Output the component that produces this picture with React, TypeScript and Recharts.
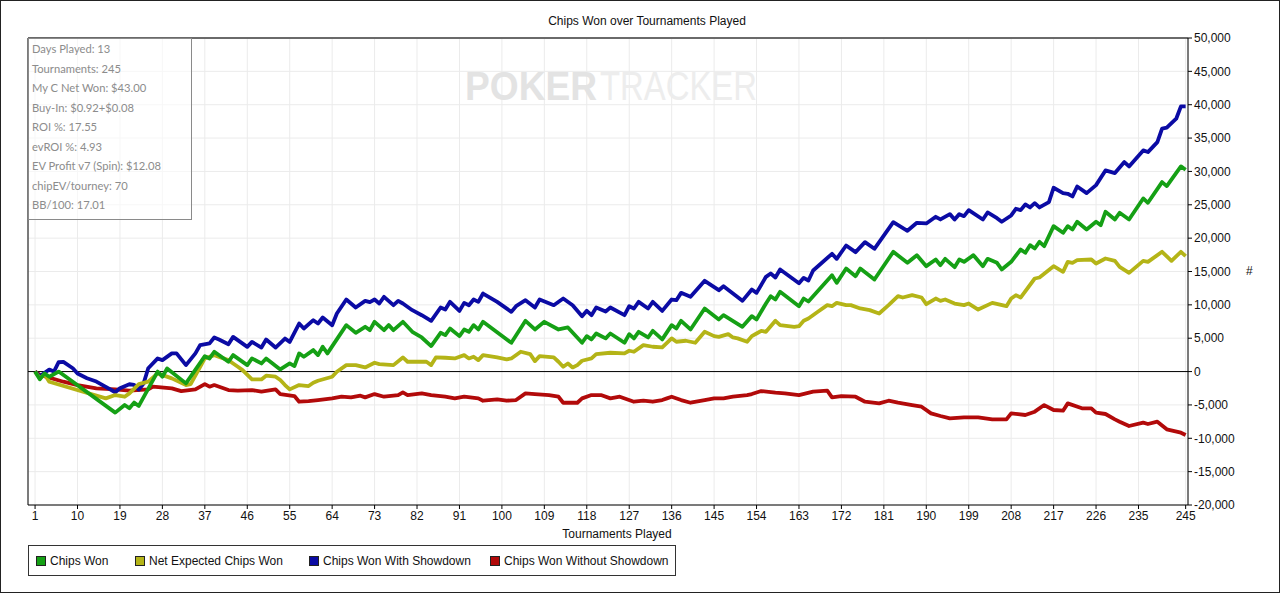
import React from 'react';
import {
  LineChart,
  Line,
  XAxis,
  YAxis,
  CartesianGrid,
  ReferenceLine,
} from 'recharts';

// vertices: [tournament, chips]
const chipsWon: [number, number][] = [
  [1, 0], [2, -1170], [3, -270], [4, -770], [6, 0], [18, -6150], [20, -5000], [21, -5500],
  [22, -4650], [23, -5150], [27, 0], [28, -770], [29, 470], [33, -1770], [37, 2320], [38, 1970],
  [39, 2970], [42, 1470], [43, 2470], [46, 970], [47, 1970], [49, 1220], [50, 1970], [53, 320],
  [55, 1220], [56, 820], [57, 2720], [58, 2220], [60, 3220], [61, 2470], [62, 3720], [63, 2720],
  [67, 6960], [69, 5810], [71, 6710], [72, 6210], [73, 7460], [75, 6210], [76, 6960], [77, 6210],
  [79, 7460], [81, 5960], [83, 5110], [85, 3820], [87, 5810], [88, 5460], [89, 6460], [91, 5310],
  [92, 6310], [93, 5960], [94, 6960], [95, 6310], [96, 7460], [102, 4320], [105, 7610], [107, 6310],
  [109, 7460], [112, 6310], [114, 6610], [117, 4320], [118, 5310], [119, 4820], [120, 5710],
  [122, 4970], [123, 5710], [126, 4320], [127, 5610], [128, 4970], [129, 5960], [131, 5110],
  [132, 6110], [134, 4820], [136, 6960], [137, 6460], [138, 7610], [140, 6310], [143, 9460],
  [146, 7810], [147, 8460], [151, 6710], [153, 8310], [154, 7810], [156, 10200], [157, 11300],
  [158, 10800], [159, 11950], [163, 9800], [164, 10950], [165, 10500], [170, 14450], [171, 13300],
  [173, 15450], [175, 14300], [176, 15450], [179, 13800], [183, 17950], [186, 16300], [188, 17450],
  [190, 15800], [192, 16800], [193, 15950], [194, 16900], [196, 15650], [197, 16800], [198, 16450],
  [200, 17450], [202, 15800], [203, 16900], [205, 16300], [206, 15300], [208, 16450], [210, 18300],
  [211, 17800], [212, 18950], [213, 18450], [214, 19450], [215, 18800], [217, 21800], [219, 20800],
  [220, 21800], [221, 21300], [222, 22450], [224, 21300], [226, 22450], [227, 21950], [228, 23950],
  [230, 22800], [231, 23800], [233, 22800], [236, 25950], [237, 25300], [240, 28400], [241, 27800],
  [244, 30750], [245, 30250],
];

const netExpected: [number, number][] = [
  [1, 0], [2, -1020], [3, -400], [4, -1520], [16, -4020], [18, -3520], [20, -3770], [21, -3270],
  [23, -1870], [25, -1520], [27, -270], [30, -1020], [33, -2020], [34, -1870], [37, 1970],
  [39, 2470], [42, 1720], [43, 1220], [44, 720], [45, 220], [47, -1170], [49, -1170], [50, -620],
  [52, -770], [53, -1270], [54, -2020], [55, -2670], [57, -2020], [59, -2170], [60, -1670],
  [61, -1370], [64, -770], [65, -20], [67, 970], [69, 970], [71, 620], [73, 1320], [74, 1120],
  [77, 970], [79, 2120], [80, 1470], [83, 1470], [84, 1470], [85, 970], [86, 2120], [88, 2070],
  [90, 1970], [92, 2470], [93, 1970], [94, 2220], [95, 1720], [96, 2470], [99, 2120], [101, 1820],
  [102, 1970], [104, 2970], [106, 2620], [107, 1570], [108, 2320], [111, 2120], [112, 1470],
  [113, 720], [114, 1220], [115, 620], [116, 970], [117, 1620], [119, 1970], [120, 2620],
  [123, 2820], [126, 2720], [127, 3120], [128, 2970], [130, 3970], [132, 3720], [134, 3620],
  [136, 4970], [137, 4470], [139, 4620], [141, 4320], [143, 5960], [145, 5310], [146, 5210],
  [148, 5610], [149, 5110], [150, 4970], [152, 4470], [153, 5310], [154, 5710], [155, 6110],
  [156, 5960], [158, 7610], [159, 6960], [162, 6710], [163, 6810], [164, 7610], [165, 7960],
  [167, 8960], [169, 9960], [170, 9800], [171, 10300], [173, 9960], [174, 9960], [176, 9460],
  [178, 9210], [180, 8710], [182, 9960], [184, 11300], [185, 11100], [187, 11450], [189, 11100],
  [190, 10100], [192, 10950], [193, 10600], [194, 10800], [196, 10200], [198, 9960], [199, 10200],
  [201, 9300], [204, 10300], [207, 9800], [208, 10950], [209, 11450], [210, 11100], [213, 13950],
  [214, 14100], [217, 15800], [219, 14950], [220, 16450], [221, 16300], [222, 16700], [225, 16800],
  [226, 16200], [228, 16950], [230, 16600], [231, 15700], [233, 14800], [236, 16600], [237, 16450],
  [240, 17950], [242, 16600], [244, 17950], [245, 17300],
];

const withShowdown: [number, number][] = [
  [1, 0], [2, -700], [4, 300], [5, 0], [6, 1400], [7, 1450], [9, 500], [10, -300], [12, -1000],
  [14, -1500], [16, -2300], [18, -3100], [19, -2500], [21, -1900], [22, -2000], [23, -2700],
  [24, -1800], [25, 500], [27, 1970], [28, 1720], [30, 2720], [31, 2720], [33, 970], [35, 2720],
  [36, 3970], [38, 4220], [39, 5100], [40, 4800], [42, 4100], [43, 5200], [46, 3700], [47, 4450],
  [49, 3600], [50, 4800], [52, 3600], [54, 4950], [55, 4450], [57, 7200], [58, 6450], [60, 7700],
  [61, 7200], [62, 8100], [64, 6950], [65, 8700], [67, 10800], [69, 9600], [71, 10600],
  [72, 10400], [73, 10800], [74, 10200], [75, 11200], [77, 9950], [78, 10600], [79, 10200],
  [81, 9200], [83, 8450], [85, 7600], [87, 9600], [88, 9300], [89, 10450], [91, 9100], [92, 10300],
  [93, 9950], [94, 10800], [95, 10450], [96, 11700], [99, 10450], [102, 8950], [103, 9800],
  [105, 10700], [107, 9600], [108, 10800], [111, 9950], [113, 10950], [115, 9950], [117, 8300],
  [118, 9100], [119, 8450], [120, 9600], [122, 9000], [123, 9600], [126, 8450], [127, 9800],
  [128, 9450], [129, 10450], [131, 9450], [132, 10450], [134, 9100], [136, 10800], [137, 10700],
  [138, 11800], [140, 11200], [143, 13600], [146, 12200], [147, 12800], [151, 10600], [153, 12300],
  [154, 11800], [156, 14200], [157, 14700], [158, 14100], [159, 15300], [163, 13250], [164, 14050],
  [165, 13650], [166, 15150], [170, 17650], [171, 16900], [173, 18900], [175, 17900], [177, 19400],
  [179, 18400], [183, 22400], [186, 21100], [188, 22300], [190, 22200], [192, 23200], [193, 22800],
  [195, 23600], [196, 22800], [197, 23600], [198, 23300], [199, 24200], [202, 22800], [203, 23850],
  [205, 23000], [206, 22450], [208, 23400], [209, 24400], [210, 24200], [211, 25050], [212, 24600],
  [213, 25250], [214, 24600], [216, 25400], [217, 27550], [219, 26750], [220, 26650], [221, 26250],
  [222, 27750], [224, 26750], [226, 27950], [228, 30150], [230, 29750], [232, 31400], [233, 30750],
  [236, 33150], [237, 32900], [239, 34400], [240, 36400], [241, 36550], [243, 37900], [244, 39750],
  [245, 39750],
];

const withoutShowdown: [number, number][] = [
  [1, 0], [2, -500], [7, -1520], [10, -2020], [14, -2520], [18, -2670], [21, -2870], [25, -2670],
  [26, -2270], [30, -2520], [32, -2920], [35, -2670], [37, -1870], [38, -2270], [39, -2020],
  [42, -2770], [44, -2870], [47, -2770], [49, -3020], [52, -2670], [53, -3370], [56, -3670],
  [57, -4520], [59, -4420], [61, -4270], [64, -4020], [66, -3770], [68, -3870], [70, -3620],
  [71, -3870], [73, -3370], [75, -3770], [78, -3520], [79, -3120], [80, -3520], [83, -3270],
  [85, -3520], [88, -3770], [90, -4020], [92, -3770], [95, -4020], [96, -4370], [99, -4170],
  [101, -4370], [103, -4270], [105, -3270], [107, -3370], [110, -3520], [112, -3770], [113, -4670],
  [116, -4670], [117, -4020], [119, -3520], [121, -3520], [123, -4020], [125, -3770], [128, -4520],
  [130, -4370], [132, -4520], [134, -4270], [135, -4020], [136, -3770], [138, -4270], [140, -4670],
  [143, -4270], [145, -4020], [147, -4020], [149, -3770], [152, -3520], [153, -3370], [155, -2920],
  [158, -3170], [160, -3270], [163, -3520], [166, -3020], [169, -2870], [170, -3870], [172, -3670],
  [175, -3770], [177, -4520], [180, -4770], [182, -4370], [184, -4670], [187, -5020], [189, -5270],
  [191, -6270], [193, -6660], [195, -7010], [198, -6860], [201, -6860], [204, -7160], [207, -7160],
  [208, -6260], [211, -6510], [213, -6010], [215, -5020], [217, -5760], [219, -5860], [220, -4770],
  [223, -5510], [225, -5510], [226, -6160], [228, -6360], [230, -7160], [231, -7510], [233, -8160],
  [236, -7660], [237, -7860], [239, -7510], [241, -8660], [244, -9160], [245, -9510],
];

const xTicks = [
  1, 10, 19, 28, 37, 46, 55, 64, 73, 82, 91, 100, 109, 118, 127, 136, 145, 154, 163, 172, 181,
  190, 199, 208, 217, 226, 235, 245,
];
const yTicks = [
  -20000, -15000, -10000, -5000, 0, 5000, 10000, 15000, 20000, 25000, 30000, 35000, 40000, 45000,
  50000,
];

const statLines = [
  'Days Played: 13',
  'Tournaments: 245',
  'My C Net Won: $43.00',
  'Buy-In: $0.92+$0.08',
  'ROI %: 17.55',
  'evROI %: 4.93',
  'EV Profit v7 (Spin): $12.08',
  'chipEV/tourney: 70',
  'BB/100: 17.01',
];

const series = [
  { name: 'Chips Won', color: '#15a015', points: chipsWon },
  { name: 'Net Expected Chips Won', color: '#b4b417', points: netExpected },
  { name: 'Chips Won With Showdown', color: '#0b0ba4', points: withShowdown },
  { name: 'Chips Won Without Showdown', color: '#b20a0a', points: withoutShowdown },
];

// drawing order: red first, green on top
const drawOrder = [3, 2, 1, 0];

const FONT = '"Liberation Sans", Arial, sans-serif';

const fmt = (v: number) => v.toLocaleString('en-US');

const App: React.FC = () => {
  return (
    <div
      style={{
        position: 'absolute',
        left: 0,
        top: 0,
        width: 1280,
        height: 593,
        background: '#fff',
        fontFamily: FONT,
        overflow: 'hidden',
      }}
    >
      <div
        style={{
          position: 'absolute',
          top: 14,
          left: 0,
          width: 1294,
          textAlign: 'center',
          fontSize: 12,
          color: '#111',
        }}
      >
        Chips Won over Tournaments Played
      </div>

      <LineChart
        width={1280}
        height={593}
        margin={{ top: 38, right: 32, bottom: 68, left: 28 }}
        style={{ position: 'absolute', left: 0, top: 0 }}
      >
        <CartesianGrid stroke="#ebebeb" />
        <XAxis
          type="number"
          dataKey="t"
          domain={[-0.5, 245.5]}
          ticks={xTicks}
          interval={0}
          allowDataOverflow
          height={20}
          stroke="#000"
          tickSize={4}
          tickMargin={2}
          tick={{ fill: '#111', fontSize: 12, fontFamily: FONT }}
        />
        <YAxis
          type="number"
          orientation="right"
          domain={[-20000, 50000]}
          ticks={yTicks}
          interval={0}
          allowDataOverflow
          width={60}
          stroke="#000"
          tickSize={4}
          tickMargin={2}
          tickFormatter={fmt}
          tick={{ fill: '#111', fontSize: 12, fontFamily: FONT, textAnchor: 'start' }}
        />
        <ReferenceLine y={50000} stroke="#6a6a6a" strokeWidth={2} />
        <ReferenceLine x={-0.5} stroke="#000" />
        <ReferenceLine y={0} stroke="#000" />
        {drawOrder.map((i) => {
          const s = series[i];
          return (
            <Line
              key={s.name}
              name={s.name}
              data={s.points.map(([t, v]) => ({ t, v }))}
              dataKey="v"
              type="linear"
              stroke={s.color}
              strokeWidth={3.8}
              strokeLinejoin="round"
              dot={false}
              activeDot={false}
              isAnimationActive={false}
            />
          );
        })}
      </LineChart>

      <svg
        width={420}
        height={56}
        style={{ position: 'absolute', left: 455, top: 58, pointerEvents: 'none' }}
      >
        <text
          x={10}
          y={42}
          fontSize={40}
          fontWeight="bold"
          fontFamily={FONT}
          fill="#e3e3e3"
          textLength={132}
          lengthAdjust="spacingAndGlyphs"
        >
          POKER
        </text>
        <text
          x={145}
          y={42}
          fontSize={40}
          fontFamily={FONT}
          fill="#ededed"
          textLength={157}
          lengthAdjust="spacingAndGlyphs"
        >
          TRACKER
        </text>
      </svg>

      <div
        style={{
          position: 'absolute',
          left: 28,
          top: 38,
          width: 164,
          height: 182,
          boxSizing: 'border-box',
          border: '1px solid #8a8a8a',
          background: 'rgba(255,255,255,0.6)',
          padding: '0 0 0 3px',
          fontFamily: 'Lato, "Open Sans", sans-serif',
          fontSize: 11.2,
          color: '#8c8c8c',
        }}
      >
        {statLines.map((s) => (
          <div key={s} style={{ height: 19.5, lineHeight: '19.5px', whiteSpace: 'nowrap' }}>
            {s}
          </div>
        ))}
      </div>

      <div
        style={{
          position: 'absolute',
          left: 0,
          top: 527,
          width: 1234,
          textAlign: 'center',
          fontSize: 12,
          color: '#111',
        }}
      >
        Tournaments Played
      </div>

      <div
        style={{
          position: 'absolute',
          left: 1246,
          top: 264,
          fontSize: 12,
          color: '#111',
        }}
      >
        #
      </div>

      <div
        style={{
          position: 'absolute',
          left: 28,
          top: 545,
          width: 648,
          height: 31,
          boxSizing: 'border-box',
          border: '1px solid #333',
          background: '#fff',
        }}
      >
        {series.map((s, i) => {
          const lefts = [7, 106, 280, 461];
          return (
            <div
              key={s.name}
              style={{
                position: 'absolute',
                left: lefts[i],
                top: 8,
                display: 'flex',
                alignItems: 'center',
                fontSize: 12,
                color: '#111',
                whiteSpace: 'nowrap',
              }}
            >
              <span
                style={{
                  display: 'inline-block',
                  width: 8,
                  height: 8,
                  background: s.color,
                  border: '1px solid #222',
                  marginRight: 4,
                }}
              />
              {s.name}
            </div>
          );
        })}
      </div>

      <div
        style={{
          position: 'absolute',
          left: 0,
          top: 0,
          width: 1280,
          height: 593,
          boxSizing: 'border-box',
          border: '1px solid #222',
          pointerEvents: 'none',
        }}
      />
    </div>
  );
};

export default App;
